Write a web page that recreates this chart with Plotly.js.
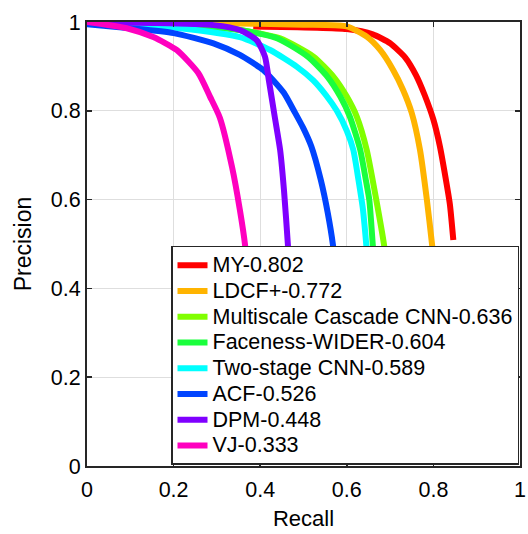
<!DOCTYPE html>
<html>
<head>
<meta charset="utf-8">
<script src="https://cdn.plot.ly/plotly-3.0.1.min.js"></script>
<style>html,body{margin:0;padding:0;background:#fff;}</style>
</head>
<body>
<div id="chart" style="width:528px;height:534px;"></div>
<script>
// Series names (legend labels)
const names = ["MY-0.802", "LDCF+-0.772", "Multiscale Cascade CNN-0.636", "Faceness-WIDER-0.604",
               "Two-stage CNN-0.589", "ACF-0.526", "DPM-0.448", "VJ-0.333"];
const colors = ["#ff0000", "#ffb400", "#80ff00", "#1aff3c", "#00ffff", "#0044ff", "#7f00ff", "#ff00bf"];

// Recall / Precision values
const recallMY   = [0.384, 0.60, 0.66, 0.70, 0.735, 0.76, 0.78, 0.80, 0.815, 0.828, 0.838, 0.846];
const precMY     = [0.990, 0.984, 0.972, 0.952, 0.920, 0.880, 0.835, 0.780, 0.720, 0.650, 0.590, 0.509];

const recallLDCF = [0, 0.2, 0.4, 0.5, 0.6, 0.646, 0.677, 0.707, 0.730, 0.750, 0.769, 0.785, 0.797, 0.800];
const precLDCF   = [1.0, 0.998, 0.996, 0.994, 0.990, 0.967, 0.937, 0.892, 0.847, 0.795, 0.712, 0.599, 0.498, 0.470];

const recallMSC  = [0, 0.2, 0.353, 0.446, 0.523, 0.569, 0.600, 0.623, 0.646, 0.668, 0.686, 0.690];
const precMSC    = [1.0, 0.995, 0.982, 0.963, 0.922, 0.877, 0.832, 0.787, 0.712, 0.600, 0.498, 0.460];

const recallFace = [0, 0.2, 0.353, 0.440, 0.510, 0.555, 0.585, 0.607, 0.631, 0.644, 0.652, 0.660, 0.663];
const precFace   = [1.0, 0.995, 0.982, 0.963, 0.922, 0.877, 0.832, 0.787, 0.712, 0.644, 0.599, 0.498, 0.460];

const recallTwo  = [0, 0.1, 0.215, 0.353, 0.423, 0.485, 0.522, 0.552, 0.577, 0.600, 0.615, 0.627, 0.637, 0.645, 0.648];
const precTwo    = [1.0, 0.995, 0.986, 0.966, 0.937, 0.899, 0.869, 0.835, 0.800, 0.755, 0.712, 0.644, 0.580, 0.498, 0.460];

const recallACF  = [0, 0.1, 0.2, 0.292, 0.353, 0.407, 0.430, 0.455, 0.478, 0.499, 0.518, 0.540, 0.556, 0.568, 0.572];
const precACF    = [0.995, 0.986, 0.975, 0.952, 0.926, 0.892, 0.869, 0.840, 0.800, 0.762, 0.720, 0.644, 0.570, 0.498, 0.460];

const recallDPM  = [0, 0.15, 0.292, 0.353, 0.392, 0.411, 0.420, 0.434, 0.446, 0.455, 0.464, 0.466];
const precDPM    = [1.0, 0.998, 0.993, 0.982, 0.959, 0.922, 0.869, 0.784, 0.712, 0.620, 0.498, 0.460];

const recallVJ   = [0, 0.092, 0.153, 0.207, 0.257, 0.284, 0.307, 0.335, 0.353, 0.365, 0.368];
const precVJ     = [1.0, 0.986, 0.966, 0.937, 0.885, 0.832, 0.784, 0.673, 0.577, 0.498, 0.460];

const xs = [recallMY, recallLDCF, recallMSC, recallFace, recallTwo, recallACF, recallDPM, recallVJ];
const ys = [precMY, precLDCF, precMSC, precFace, precTwo, precACF, precDPM, precVJ];

const FONT = "Liberation Sans, Arial, sans-serif";

const traces = names.map((n, i) => ({
  type: "scatter",
  mode: "lines",
  x: xs[i],
  y: ys[i],
  name: '<span style="font-size:21.5px">' + n + '</span>',
  line: { color: colors[i], width: 6, shape: "spline", smoothing: 0.6 },
  hoverinfo: "skip"
}));

const axisCommon = {
  range: [0, 1],
  dtick: 0.2,
  tick0: 0,
  showgrid: true,
  gridcolor: "#dedede",
  gridwidth: 1,
  zeroline: false,
  showline: true,
  linecolor: "#262626",
  linewidth: 2,
  mirror: "ticks",
  ticks: "inside",
  ticklen: 5,
  tickwidth: 1.5,
  tickcolor: "#262626",
  tickfont: { family: FONT, size: 21.5, color: "#000" },
  fixedrange: true
};

const layout = {
  width: 528,
  height: 534,
  margin: { l: 87, r: 8, t: 22, b: 68 },
  paper_bgcolor: "#fff",
  plot_bgcolor: "#fff",
  font: { family: FONT, size: 21, color: "#000" },
  showlegend: true,
  legend: {
    x: 0.194, y: 0.4955, xanchor: "left", yanchor: "top",
    bgcolor: "#fff",
    bordercolor: "#262626",
    borderwidth: 1.5,
    font: { family: FONT, size: 17.5, color: "#000" },
    tracegroupgap: 0,
    itemwidth: 30
  },
  xaxis: Object.assign({}, axisCommon, {
    ticklabelstandoff: 3,
    title: { text: "Recall", font: { family: FONT, size: 22, color: "#000" }, standoff: 10 }
  }),
  yaxis: Object.assign({}, axisCommon, {
    title: { text: "Precision", font: { family: FONT, size: 23, color: "#000" }, standoff: 13 }
  })
};

Plotly.newPlot("chart", traces, layout, { displayModeBar: false, staticPlot: true });
</script>
</body>
</html>
